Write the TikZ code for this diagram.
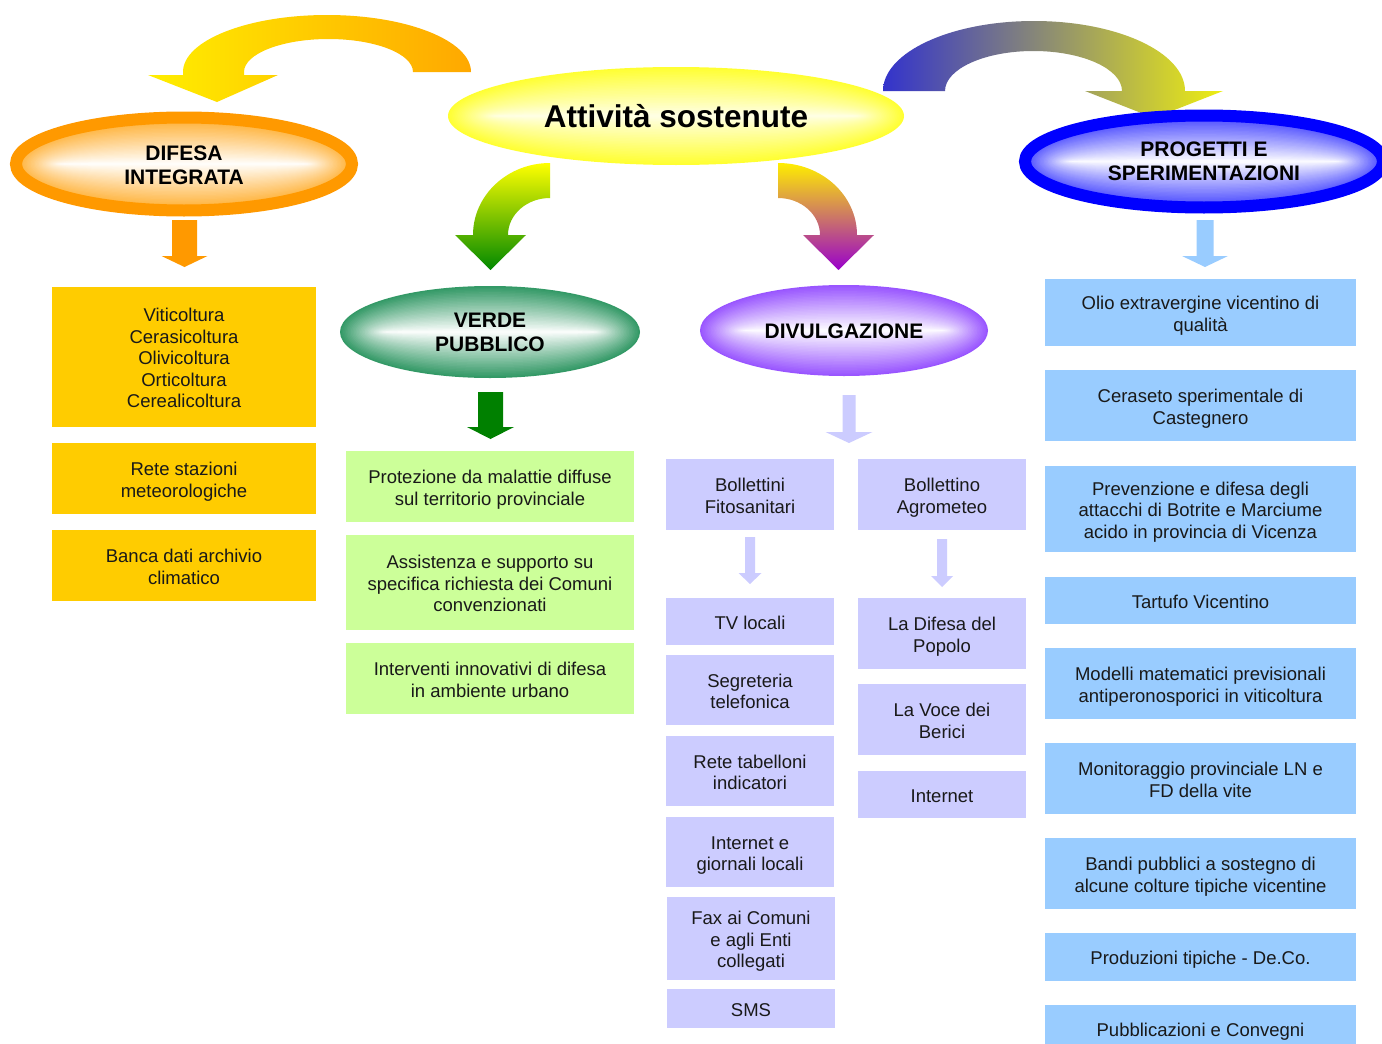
\documentclass[tikz,border=0pt]{standalone}
\usepackage{fontspec}
\setmainfont{Liberation Sans}
\definecolor{cOr}{HTML}{FF9900}
\definecolor{cOrLight}{HTML}{FFB848}
\definecolor{cBoxOr}{HTML}{FFCC00}
\definecolor{cBoxGr}{HTML}{CCFF99}
\definecolor{cBoxLav}{HTML}{CCCCFF}
\definecolor{cBoxBl}{HTML}{99CCFF}
\definecolor{cGrDark}{HTML}{008000}
\definecolor{cBlue}{HTML}{0000FF}
\definecolor{cBlLight}{HTML}{5A5AFF}
\definecolor{cYel}{HTML}{FFFF33}
\definecolor{cSea}{HTML}{339966}
\definecolor{cPur}{HTML}{9955FF}
\definecolor{cArrY}{HTML}{FFEE00}
\definecolor{cArrO}{HTML}{FFA800}
\definecolor{cArrB}{HTML}{3333CC}
\definecolor{cArrY2}{HTML}{EEEE11}
\definecolor{cArrG}{HTML}{008800}
\definecolor{cArrP}{HTML}{9900CC}
\newcommand\gradell[5]{% coordinate, rx, ry, color, final percent
  \foreach \i in {0,...,29}{%
    \pgfmathsetmacro\gdA{#3*\i/30}%
    \pgfmathtruncatemacro\gpA{100-\i*(100-#5)/30}%
    \fill[#4!\gpA!white] (#1) ellipse[x radius={#2-\gdA}, y radius={#3-\gdA}];
  }}
\newcommand\barrow[7]{\fill[#7] ({#1-#5},#2) -- ({#1+#5},#2) -- ({#1+#5},#3) -- ({#1+#6},#3) -- (#1,#4) -- ({#1-#6},#3) -- ({#1-#5},#3) -- cycle;}
\newcommand\bxTop{\rule{0pt}{19.5pt}}
\newcommand\bxBot{\rule[-3.9pt]{0pt}{3.9pt}}
\tikzset{
  bx/.style={inner sep=0pt, align=center, text=black!90, font=\fontsize{18.5}{21.5}\selectfont},
  obox/.style={bx, fill=cBoxOr, minimum width=264pt},
  gbox/.style={bx, fill=cBoxGr, minimum width=288pt},
  lbox/.style={bx, fill=cBoxLav, minimum width=168pt},
  boxB/.style={bx, fill=cBoxBl, minimum width=311pt},
  etitle/.style={align=center, inner sep=0pt, font=\bfseries\fontsize{21}{24}\selectfont}
}
\begin{document}
\begin{tikzpicture}[x=1pt,y=-1pt]
\clip (0,0) rectangle (1382,1044);
\fill[white] (0,0) rectangle (1382,1044);
% curved arrows
\shade[left color=cArrY, right color=cArrO]
  (471,72) arc[start angle=0, end angle=-180, x radius=144, y radius=57]
  -- (183,75) -- (148,75) -- (217,102) -- (278,75) -- (244,75) -- (244,72)
  arc[start angle=180, end angle=360, x radius=84.5, y radius=33] -- cycle;
\shade[left color=cArrB, right color=cArrY2]
  (883,91) arc[start angle=180, end angle=360, x radius=151, y radius=70]
  -- (1223,91) -- (1154,118) -- (1085,91) -- (1122,91)
  arc[start angle=0, end angle=-180, x radius=88.5, y radius=40] -- cycle;
\shade[top color=yellow, bottom color=cArrG]
  (550,163) arc[start angle=-90, end angle=-180, x radius=77, y radius=72]
  -- (455,235) -- (490.5,270) -- (526,235) -- (508,235)
  arc[start angle=180, end angle=270, x radius=42, y radius=37] -- cycle;
\shade[top color=cArrY, bottom color=cArrP]
  (778,163) arc[start angle=-90, end angle=0, x radius=79, y radius=72]
  -- (874,235) -- (838.5,270) -- (803,235) -- (820,235)
  arc[start angle=0, end angle=-90, x radius=42, y radius=37] -- cycle;
% ellipses
\coordinate (cAtt) at (676,116);
\coordinate (cDif) at (184,164);
\coordinate (cPro) at (1204,161.5);
\coordinate (cVer) at (490,332);
\coordinate (cDiv) at (844,330.5);
\gradell{cAtt}{228}{49}{cYel}{12}
\gradell{cDif}{163}{41}{cOrLight}{0}
\draw[cOr, line width=12pt] (cDif) ellipse[x radius=168, y radius=46.5];
\gradell{cPro}{174}{41}{cBlLight}{0}
\draw[cBlue, line width=12pt] (cPro) ellipse[x radius=179, y radius=46];
\gradell{cVer}{150}{46}{cSea}{0}
\gradell{cDiv}{144}{45.5}{cPur}{0}
\node[etitle, font=\bfseries\fontsize{31.5}{36}\selectfont] (att) at (cAtt) {Attività sostenute};
\node[etitle] (dif) at ([yshift=-1pt]cDif) {DIFESA\\INTEGRATA};
\node[etitle] (pro) at (cPro) {PROGETTI E\\SPERIMENTAZIONI};
\node[etitle] (ver) at ([yshift=-0.5pt]cVer) {VERDE\\PUBBLICO};
\node[etitle] (div) at ([yshift=-1pt]cDiv) {DIVULGAZIONE};
% straight block arrows
\barrow{184.5}{220}{256}{267}{12.5}{23}{cOr}
\barrow{490.5}{392}{427}{439}{12.5}{23.5}{cGrDark}
\barrow{849}{395}{432}{443}{6.5}{23.5}{cBoxLav}
\barrow{1205}{220}{256}{267}{8.5}{23}{cBoxBl}
\barrow{750}{537}{573}{584}{5}{11.5}{cBoxLav}
\barrow{942}{539}{576}{587}{5}{11}{cBoxLav}
% orange column
\node[obox, minimum height=140pt] (od1) at (184,357) {\bxTop Viticoltura\\Cerasicoltura\\Olivicoltura\\Orticoltura\\Cerealicoltura\bxBot};
\node[obox, minimum height=71pt] (od2) at (184,478.5) {\bxTop Rete stazioni\\meteorologiche\bxBot};
\node[obox, minimum height=71pt] (od3) at (184,565.5) {\bxTop Banca dati archivio\\climatico\bxBot};
% green column
\node[gbox, minimum height=71pt] (gv1) at (490,486.5) {\bxTop Protezione da malattie diffuse\\sul territorio provinciale\bxBot};
\node[gbox, minimum height=95pt] (gv2) at (490,582.5) {\bxTop Assistenza e supporto su\\specifica richiesta dei Comuni\\convenzionati\bxBot};
\node[gbox, minimum height=71pt] (gv3) at (490,678.5) {\bxTop Interventi innovativi di difesa\\in ambiente urbano\bxBot};
% lavender column 1
\node[lbox, minimum height=71pt] (l1) at (750,494.5) {\bxTop Bollettini\\Fitosanitari\bxBot};
\node[lbox, minimum height=47pt] (l2) at (750,621.5) {\bxTop TV locali\bxBot};
\node[lbox, minimum height=70pt] (l3) at (750,690) {\bxTop Segreteria\\telefonica\bxBot};
\node[lbox, minimum height=70pt] (l4) at (750,771) {\bxTop Rete tabelloni\\indicatori\bxBot};
\node[lbox, minimum height=70pt] (l5) at (750,852) {\bxTop Internet e\\giornali locali\bxBot};
\node[lbox, minimum height=83pt] (l6) at (751,938.5) {\bxTop Fax ai Comuni\\e agli Enti\\collegati\bxBot};
\node[lbox, minimum height=39pt] (l7) at (751,1008.5) {\bxTop SMS\bxBot};
% lavender column 2
\node[lbox, minimum height=71pt] (r1) at (942,494.5) {\bxTop Bollettino\\Agrometeo\bxBot};
\node[lbox, minimum height=71pt] (r2) at (942,633.5) {\bxTop La Difesa del\\Popolo\bxBot};
\node[lbox, minimum height=71pt] (r3) at (942,719.5) {\bxTop La Voce dei\\Berici\bxBot};
\node[lbox, minimum height=47pt] (r4) at (942,794.5) {\bxTop Internet\bxBot};
% blue column
\node[boxB, minimum height=67pt] (b1) at (1200.5,312.5) {\bxTop Olio extravergine vicentino di\\qualità\bxBot};
\node[boxB, minimum height=71pt] (b2) at (1200.5,405.5) {\bxTop Ceraseto sperimentale di\\Castegnero\bxBot};
\node[boxB, minimum height=86pt] (b3) at (1200.5,509) {\bxTop Prevenzione e difesa degli\\attacchi di Botrite e Marciume\\acido in provincia di Vicenza\bxBot};
\node[boxB, minimum height=47pt] (b4) at (1200.5,600.5) {\bxTop Tartufo Vicentino\bxBot};
\node[boxB, minimum height=71pt] (b5) at (1200.5,683.5) {\bxTop Modelli matematici previsionali\\antiperonosporici in viticoltura\bxBot};
\node[boxB, minimum height=71pt] (b6) at (1200.5,778.5) {\bxTop Monitoraggio provinciale LN e\\FD della vite\bxBot};
\node[boxB, minimum height=71pt] (b7) at (1200.5,873.5) {\bxTop Bandi pubblici a sostegno di\\alcune colture tipiche vicentine\bxBot};
\node[boxB, minimum height=48pt] (b8) at (1200.5,957) {\bxTop Produzioni tipiche - De.Co.\bxBot};
\node[boxB, minimum height=48pt] (b9) at (1200.5,1029) {\bxTop Pubblicazioni e Convegni\bxBot};
\end{tikzpicture}
\end{document}
